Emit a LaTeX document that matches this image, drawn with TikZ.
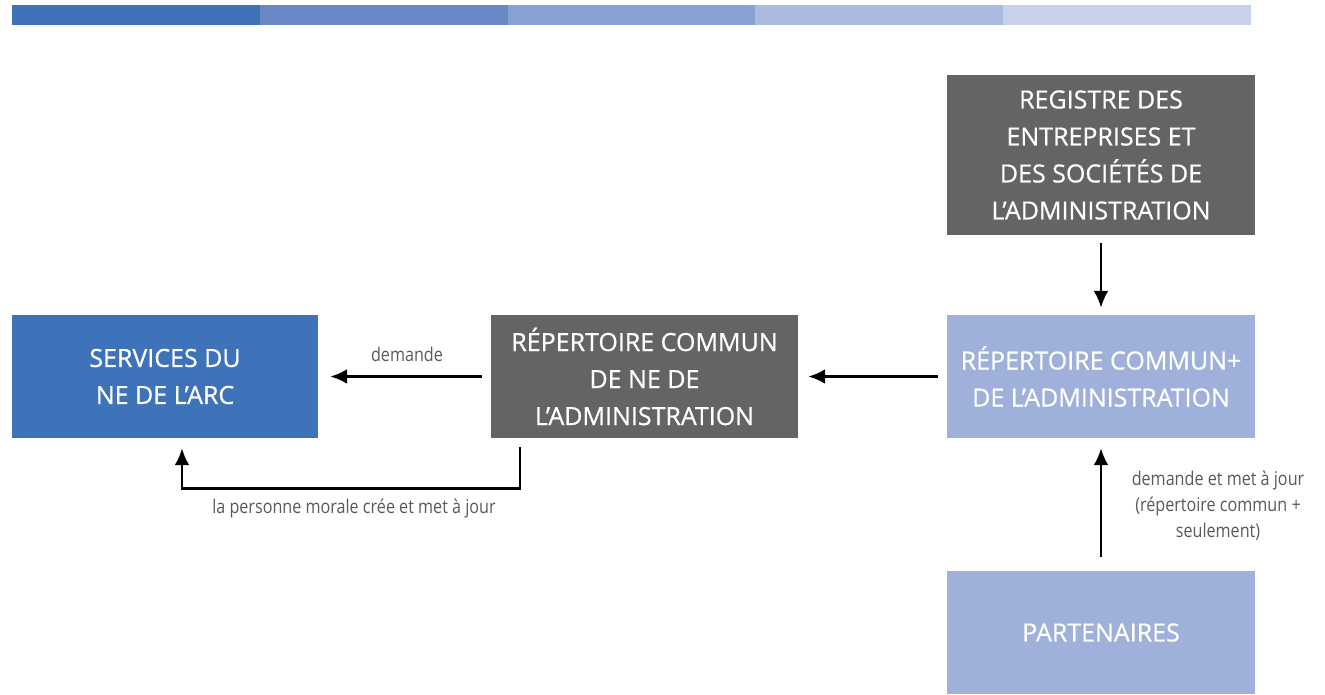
\documentclass[tikz,border=0pt]{standalone}
\usepackage{fontspec}
\setmainfont{Open Sans}
\newfontfamily\boxfont[FakeBold=0.6]{Open Sans}
\newfontfamily\condfont[FakeStretch=0.85]{Open Sans}
\usetikzlibrary{arrows.meta,positioning}
\definecolor{bleuA}{HTML}{3F73B9}
\definecolor{bleuB}{HTML}{6889C6}
\definecolor{bleuC}{HTML}{87A1D2}
\definecolor{bleuD}{HTML}{ABBAE0}
\definecolor{bleuE}{HTML}{C6D1EC}
\definecolor{bleuclair}{HTML}{9FB0DB}
\definecolor{grisbox}{HTML}{636466}
\definecolor{gristxt}{HTML}{5A5A5A}
\tikzset{
  boite/.style={draw=none,text=white,align=center,inner sep=0pt,
    font=\boxfont\fontsize{25}{37}\selectfont,minimum width=307pt,minimum height=123pt},
  etiq/.style={text=gristxt,align=center,inner sep=0pt,
    font=\condfont\fontsize{19}{26}\selectfont},
  fleche/.style={->,line width=2.8pt}
}
\begin{document}
\begin{tikzpicture}[x=1pt,y=-1pt,>={Latex[length=17pt,width=15pt]}]
        \useasboundingbox (0,0) rectangle (1325,694);
        % bandeau du haut
        \foreach \c [count=\i from 0] in {bleuA,bleuB,bleuC,bleuD,bleuE}
          \fill[\c] ({12+\i*247.8},5) rectangle ({12+(\i+1)*247.8},25);
        % boites
        \node[boite,fill=bleuA,minimum width=306pt] (svc) at (165,376.5) {SERVICES DU\\NE DE L’ARC};
        \node[boite,fill=grisbox] (rcne) at (644.5,376.5) {RÉPERTOIRE COMMUN\\DE NE DE\\L’ADMINISTRATION};
        \node[boite,fill=grisbox,minimum width=308pt,minimum height=160pt] (reg) at (1101,155) {REGISTRE DES\\ENTREPRISES ET\\DES SOCIÉTÉS DE\\L’ADMINISTRATION};
        \node[boite,fill=bleuclair,minimum width=308pt] (rcp) at (1101,376.5) {RÉPERTOIRE COMMUN+\\DE L’ADMINISTRATION};
        \node[boite,fill=bleuclair,minimum width=308pt] (part) at (1101,632.5) {PARTENAIRES};
        % fleches
        \draw[fleche,shorten <=9pt,shorten >=12pt] (rcne.west) -- (svc.east);
        \draw[fleche,shorten <=9pt,shorten >=10pt] (rcp.west) -- (rcne.east);
        \draw[fleche,shorten <=8pt,shorten >=7pt] (reg.south) -- (rcp.north);
        \draw[fleche,shorten <=14pt,shorten >=10pt] (part.north) -- (rcp.south);
        \draw[fleche] ([xshift=-124.5pt,yshift=-9pt]rcne.south) -- ++(0,41) -| ([xshift=17pt,yshift=-10pt]svc.south);
        % textes
        \node[etiq] (dem) at (407,354) {demande};
        \node[etiq] (pm) at (354,508) {la personne morale crée et met à jour};
        \node[etiq] (maj) at (1218,506) {demande et met à jour\\(répertoire commun +\\seulement)};
\end{tikzpicture}
\end{document}
